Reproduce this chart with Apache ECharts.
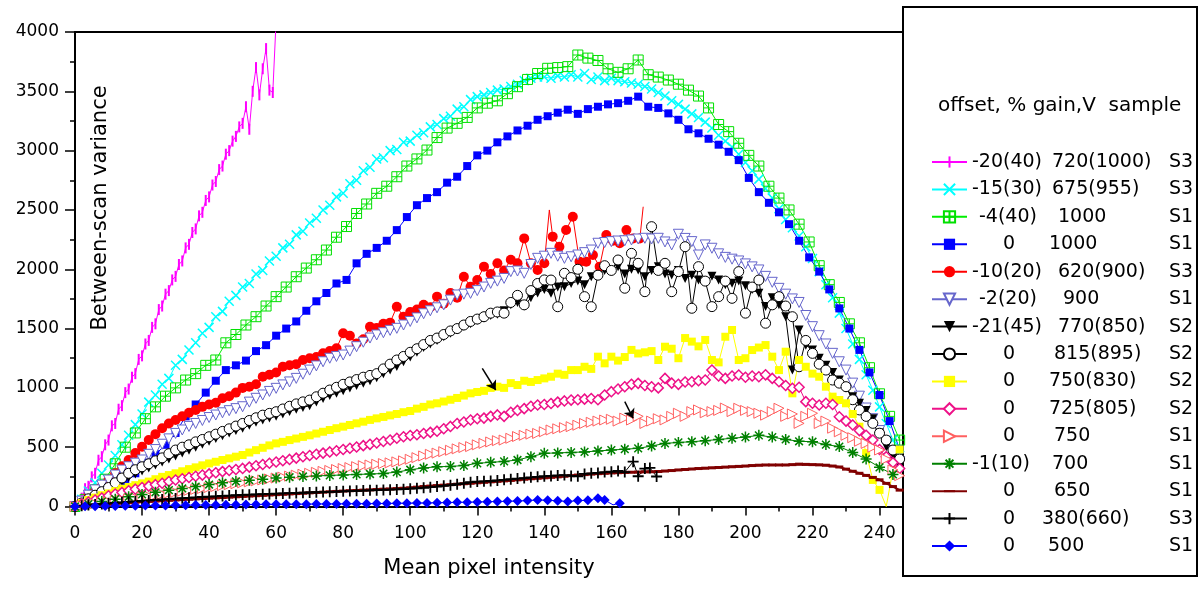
<!DOCTYPE html>
<html><head><meta charset="utf-8">
<script src="https://cdn.jsdelivr.net/npm/echarts/dist/echarts.min.js"></script>
<style>html,body{margin:0;padding:0;background:#fff}#c{width:1200px;height:594px}</style>
</head><body><div id="c"></div>
<script>
// ---------- DATA ----------
const X2 = [0,2,4,6,8,10,12,14,16,18,
20,22,24,26,28,30,32,34,36,38,
40,42,44,46,48,50,52,54,56,58,
60,62,64,66,68,70,72,74,76,78,
80,82,84,86,88,90,92,94,96,98,
100,102,104,106,108,110,112,114,116,118,
120,122,124,126,128,130,132,134,136,138,
140,142,144,146,148,150,152,154,156,158,
160,162,164,166,168,170,172,174,176,178,
180,182,184,186,188,190,192,194,196,198,
200,202,204,206,208,210,212,214,216,218,
220,222,224,226,228,230,232,234,236,238,
240,242,244,246];
const X3 = [0,3,6,9,12,15,18,21,24,27,
30,33,36,39,42,45,48,51,54,57,
60,63,66,69,72,75,78,81,84,87,
90,93,96,99,102,105,108,111,114,117,
120,123,126,129,132,135,138,141,144,147,
150,153,156,159,162,165,168,171,174,177,
180,183,186,189,192,195,198,201,204,207,
210,213,216,219,222,225,228,231,234,237,
240,243,246];
const X4 = [0,4,8,12,16,20,24,28,32,36,
40,44,48,52,56,60,64,68,72,76,
80,84,88,92,96,100,104,108,112,116,
120,124,128,132,136,140,144,148,152,156,
160,164,168,172,176,180,184,188,192,196,
200,204,208,212,216,220,224,228,232,236,
240,244];

const magentaPts = [[0,0],[1,40],[2,70],[3,150],[4,170],[5,250],[6,280],[7,390],[8,420],[9,520],[10,560],[11,680],[12,700],[13,820],[14,850],[15,960],[16,990],[17,1090],[18,1120],[19,1240],[20,1270],[21,1370],[22,1400],[23,1510],[24,1540],[25,1660],[26,1690],[27,1790],[28,1820],[29,1910],[30,1940],[31,2040],[32,2070],[33,2180],[34,2210],[35,2310],[36,2340],[37,2450],[38,2480],[39,2580],[40,2610],[41,2710],[42,2740],[43,2840],[44,2870],[45,2970],[46,3000],[47,3080],[48,3120],[49,3200],[50,3230],[51,3370],[52,3180],[53,3500],[54,3700],[55,3470],[56,3690],[57,3860],[58,3510],[59,3490],[60,4100]];

const cyanY = [0,60,130,200,280,350,430,520,600,690,
780,880,940,1030,1080,1190,1240,1320,1380,1460,
1510,1600,1645,1730,1780,1850,1880,1960,1990,2070,
2110,2180,2210,2290,2320,2390,2430,2500,2540,2610,
2640,2720,2750,2830,2860,2930,2940,3000,3010,3070,
3080,3130,3150,3200,3220,3270,3290,3350,3370,3430,
3455,3470,3490,3510,3520,3540,3560,3590,3610,3620,
3620,3610,3630,3620,3640,3620,3650,3600,3620,3590,
3610,3590,3580,3570,3560,3540,3520,3490,3460,3420,
3390,3350,3310,3280,3240,3190,3130,3080,3030,2970,
2900,2830,2760,2680,2600,2510,2420,2350,2280,2190,
2090,1980,1870,1760,1630,1500,1370,1240,1110,980,
840,700,560,430];

const greenY = [0,60,140,230,360,500,620,740,840,930,
1000,1066,1120,1190,1235,1380,1450,1530,1600,1690,
1769,1850,1937,2010,2080,2162,2270,2360,2470,2550,
2640,2700,2780,2870,2930,3005,3110,3190,3230,3280,
3360,3400,3420,3480,3539,3600,3650,3694,3700,3708,
3806,3780,3760,3690,3660,3690,3764,3640,3620,3595,
3560,3510,3460,3360,3220,3160,3062,2960,2870,2700,
2600,2500,2380,2230,2030,1870,1720,1540,1380,1170,
950,760,560];

const blueSqY = [0,15,45,90,150,200,280,370,440,520,
620,760,860,960,1060,1150,1190,1230,1310,1360,
1440,1500,1560,1650,1730,1800,1880,1910,2050,2130,
2180,2240,2330,2440,2540,2600,2650,2730,2780,2870,
2960,3000,3070,3120,3170,3210,3260,3290,3320,3345,
3310,3350,3370,3390,3400,3420,3455,3370,3360,3314,
3260,3180,3146,3100,3050,2990,2920,2770,2650,2560,
2480,2380,2240,2100,1980,1830,1670,1500,1320,1130,
940,720,480];

const redPts = [[0,0],[2,40],[4,90],[6,130],[8,170],[10,225],[12,280],[14,340],[16,392],[18,450],[20,504],[22,560],[24,610],[26,660],[28,700],[30,729],[32,760],[34,790],[36,813],[38,840],[40,860],[42,875],[44,912],[46,930],[48,960],[50,1000],[52,1010],[54,1030],[56,1094],[58,1110],[60,1130],[62,1178],[64,1190],[66,1200],[68,1235],[70,1250],[72,1260],[74,1291],[76,1310],[78,1333],[80,1460],[82,1440],[84,1375],[86,1410],[88,1516],[90,1505],[92,1540],[94,1550],[96,1684],[98,1600],[100,1640],[102,1660],[104,1700],[106,1680],[108,1769],[110,1710],[112,1800],[114,1760],[116,1937],[118,1853],[120,1910],[122,2022],[124,1960],[126,2050],[128,1990],[130,2080],[132,2050],[134,2260],[136,2050],[138,1994],[140,2050],[141.5,2500],[142.5,2275],[144.5,2190],[146.5,2331],[148.5,2443],[150.5,2064],[152.5,2064],[154.5,2120],[156.5,2022],[158.5,2289],[160.5,2240],[162.5,2219],[164.5,2331],[166.5,2260],[168.5,2260],[169.5,2527]];
const redLineOnly = [141.5,169.5];

const triDownOpenY = [0,45,95,140,180,223,265,307,335,365,
392,440,480,525,570,616,645,675,700,725,
750,771,790,808,825,841,880,912,940,970,
996,1025,1050,1080,1115,1150,1185,1220,1250,1265,
1277,1310,1347,1385,1420,1446,1465,1485,1502,1530,
1560,1590,1625,1650,1675,1700,1740,1783,1790,1797,
1820,1850,1881,1900,1923,1980,1985,1966,2040,2092,
2110,2134,2110,2092,2105,2120,2140,2162,2219,2225,
2233,2238,2240,2247,2255,2261,2255,2261,2230,2205,
2295,2260,2233,2120,2205,2177,2130,2100,2085,2070,
2045,2020,1994,1940,1890,1839,1790,1750,1720,1610,
1516,1440,1370,1291,1220,1150,1040,930,830,740,
640,550,460,380];

const triDownBlackY = [0,25,55,85,115,145,180,215,245,275,
300,325,350,375,400,425,450,475,500,525,
550,573,596,620,640,660,685,710,730,745,
760,780,800,820,835,850,880,910,935,955,
975,1000,1020,1040,1060,1085,1120,1150,1180,1220,
1260,1300,1340,1370,1400,1430,1460,1490,1520,1540,
1570,1590,1610,1620,1650,1700,1720,1690,1760,1800,
1830,1797,1850,1853,1880,1900,1870,1937,1950,1990,
1980,2022,1960,2000,1994,1937,1990,2022,1960,1951,
1990,1923,1950,1910,1895,1940,1909,1870,1881,1900,
1860,1830,1797,1685,1760,1700,1600,1150,1488,1360,
1320,1250,1190,1130,1066,1000,926,870,810,740,
620,504,420,340];

const circleOpenY = [0,30,65,95,125,160,200,240,280,310,
335,360,385,410,445,476,500,520,545,565,
588,610,633,655,678,700,725,748,770,785,
799,822,845,865,882,897,925,955,982,1005,
1030,1050,1070,1090,1105,1120,1160,1200,1235,1265,
1300,1330,1365,1400,1420,1450,1480,1500,1530,1560,
1580,1600,1630,1640,1630,1720,1780,1700,1820,1880,
1910,1909,1684,1966,1930,2000,1769,1684,1950,2030,
1990,2078,1840,2134,2050,1811,2359,1990,2050,1811,
1980,2190,1671,2022,1900,1685,1769,1900,1755,1980,
1630,1850,1909,1545,1700,1769,1690,1600,1178,1400,
1291,1200,1150,1066,1040,1010,900,814,760,701,
618,560,476,400];

const yellowY = [0,30,55,75,95,110,130,150,165,180,
195,210,230,250,265,280,297,315,330,347,
363,377,392,406,420,434,455,475,495,515,
532,545,560,573,587,600,615,630,645,660,
673,687,701,715,730,743,755,768,780,795,
805,825,840,860,870,885,900,915,935,954,
965,975,1000,1010,1000,1040,1024,1060,1050,1066,
1080,1094,1120,1110,1150,1150,1178,1160,1263,1207,
1263,1230,1260,1320,1290,1300,1310,1235,1347,1330,
1250,1420,1390,1350,1404,1235,1215,1431,1488,1235,
1250,1319,1340,1361,1263,1150,1305,954,1235,1178,
1120,1094,1010,926,898,870,780,673,450,224,
140,0,308,480];
const yellowLineOnly = [242];

const pinkY = [0,20,38,55,72,90,105,118,132,146,
160,172,184,196,210,223,234,245,255,265,
275,284,294,303,312,321,332,343,354,365,
375,386,397,408,419,430,440,450,460,470,
480,491,502,513,524,535,548,561,575,588,
598,605,615,625,635,655,675,700,712,729,
740,745,760,772,760,795,810,825,845,856,
860,868,880,890,897,900,905,910,900,940,
968,990,1010,1030,1038,1020,1010,1000,1080,1040,
1030,1050,1052,1060,1066,1150,1100,1080,1100,1108,
1090,1100,1094,1110,1080,1052,1020,997,1005,884,
870,856,870,860,757,720,687,640,600,560,
480,420,370,320];

const salmonY = [0,8,16,24,32,40,48,56,64,72,
80,88,96,104,112,120,128,136,144,152,
160,168,176,184,192,200,208,216,224,232,
240,248,256,264,272,280,288,296,304,312,
320,328,336,344,350,356,362,368,376,385,
398,412,426,440,450,462,474,486,497,505,
520,532,544,555,560,575,590,600,610,616,
630,645,655,665,673,685,700,710,720,729,
735,720,745,729,760,700,720,740,730,760,
786,760,800,814,790,800,810,830,800,828,
810,800,786,770,800,828,760,780,701,760,
786,700,720,660,630,600,580,550,532,500,
476,400,308,260];

const starY = [0,20,42,62,82,102,120,138,152,168,
185,200,212,222,230,240,247,253,258,262,
266,270,274,278,290,310,325,335,338,345,
364,372,380,392,420,448,452,456,460,468,
476,483,490,510,532,540,546,555,565,575,
585,600,585,565,550,546,522,505,455,400,
330,270];

const maroonY = [0,4,8,12,16,20,24,28,32,36,
40,43,46,49,52,55,58,61,64,67,
70,73,76,79,82,85,88,91,94,97,
100,103,106,109,112,115,118,121,124,127,
130,133,135,138,140,143,146,148,151,154,
158,163,168,172,176,180,184,188,192,196,
200,204,208,212,216,220,225,230,234,238,
242,246,250,255,260,265,269,273,277,280,
283,285,287,289,290,292,293,295,299,303,
308,312,316,320,323,326,329,332,335,338,
341,345,348,350,350,350,350,353,357,355,
353,351,348,341,333,315,297,280,262,245,
225,195,168,138];

const plusPts = [[0,0],[2,6],[4,12],[6,17],[8,22],[10,27],[12,31],[14,35],[16,39],[18,43],[20,47],[22,51],[24,55],[26,59],[28,63],[30,67],[32,70],[34,73],[36,77],[38,80],[40,83],[42,86],[44,89],[46,92],[48,95],[50,98],[52,100],[54,102],[56,104],[58,106],[60,108],[62,110],[64,112],[66,114],[68,116],[70,118],[72,120],[74,122],[76,124],[78,126],[80,128],[82,130],[84,132],[86,134],[88,136],[90,138],[92,140],[94,142],[96,144],[98,146],[100,150],[102,154],[104,158],[106,163],[108,168],[110,174],[112,180],[114,188],[116,195],[118,205],[120,210],[122,212],[124,215],[126,220],[128,225],[130,230],[132,235],[134,240],[136,246],[138,250],[140,255],[142,258],[144,262],[146,265],[148,258],[150,255],[152,275],[154,280],[156,283],[158,290],[160,293],[162,300],[164,290],[166.5,378],[168,255],[170,320],[171.5,325],[173.5,253]];

const diamondPts = [[0,0],[3,2],[6,3],[9,4],[12,5],[15,6],[18,7],[21,8],[24,8],[27,9],[30,10],[33,11],[36,12],[39,12],[42,13],[45,14],[48,15],[51,16],[54,17],[57,18],[60,18],[63,19],[66,20],[69,20],[72,21],[75,22],[78,22],[81,23],[84,24],[87,24],[90,25],[93,26],[96,27],[99,28],[102,29],[105,30],[108,32],[111,33],[114,35],[117,36],[120,38],[123,40],[126,42],[129,44],[132,46],[135,50],[138,55],[141,52],[144,48],[147,42],[150,50],[153,52],[156,70],[158,55],[160.5,14],[162.5,28]];
const diamondLineOnly = [160.5];

const arrows = [[121.5,1165,125.5,982],[164,884,166.5,744]];

const legendOffset = ['-20(40)','-15(30)','-4(40)','0','-10(20)','-2(20)','-21(45)','0','0','0','0','-1(10)','0','0','0'];
const legendGain = ['720(1000)','675(955)','1000','1000','620(900)','900','770(850)','815(895)','750(830)','725(805)','750','700','650','380(660)','500'];
const legendSample = ['S3','S3','S1','S1','S3','S1','S2','S2','S2','S2','S1','S1','S1','S3','S1'];

const xTicks = {min:0, max:247, interval:20};
const yTicks = {min:0, max:4000, interval:500};

// ---------- BUILD ----------
const FONT = 'DejaVu Sans';
const names = legendOffset.map((o,i)=>o+' '+legendGain[i]+' '+legendSample[i]);
function zip(xs, ys, lineOnly){ return xs.map((x,i)=> (lineOnly && lineOnly.indexOf(x)>=0) ? {value:[x,ys[i]], symbol:'none'} : [x,ys[i]]); }
function pts(p, lineOnly){ return p.map(v => (lineOnly && lineOnly.indexOf(v[0])>=0) ? {value:v, symbol:'none'} : v); }

const SYM = {
  bar: 'path://M0,0M5,0L5,10M10,10',
  cross: 'path://M0,0L10,10M0,10L10,0',
  sqplus: 'path://M0,0L10,0L10,10L0,10ZM5,0L5,10M0,5L10,5',
  plus: 'path://M5,0L5,10M0,5L10,5',
  star: 'path://M5,0L5,10M0,5L10,5M1.5,1.5L8.5,8.5M1.5,8.5L8.5,1.5',
  dash: 'path://M0,0M0,5L10,5M10,10'
};
const T = 'rgba(0,0,0,0)';
function S(idx, data, o){
  return {
    name: names[idx], type:'line', data: data, showAllSymbol:true, animation:false, clip:true,
    symbol: o.symbol, symbolSize: o.size, symbolRotate: o.rotate||0,
    lineStyle: {color: o.line, width: o.lw||1},
    itemStyle: {color: o.fill, borderColor: o.stroke||o.fill, borderWidth: o.bw||0},
    emphasis: {disabled:true}
  };
}
const series = [
  S(0, pts(magentaPts), {symbol:SYM.bar, size:11, line:'#ff00ff', fill:T, stroke:'#ff00ff', bw:2}),
  S(1, zip(X2,cyanY), {symbol:SYM.cross, size:9, line:'#00ffff', fill:T, stroke:'#00ffff', bw:1.5}),
  S(2, zip(X3,greenY), {symbol:SYM.sqplus, size:10, line:'#00ee00', fill:T, stroke:'#00e000', bw:1}),
  S(3, zip(X3,blueSqY), {symbol:'rect', size:8, line:'#0000ff', fill:'#0000ff'}),
  S(4, pts(redPts, redLineOnly), {symbol:'circle', size:10, line:'#ff0000', fill:'#ff0000'}),
  S(5, zip(X2,triDownOpenY), {symbol:'triangle', rotate:180, size:10, line:'#6666cc', fill:'#ffffff', stroke:'#6666cc', bw:1}),
  S(6, zip(X2,triDownBlackY), {symbol:'triangle', rotate:180, size:9, line:'#000000', fill:'#000000'}),
  S(7, zip(X2,circleOpenY), {symbol:'circle', size:10, line:'#000000', fill:'#ffffff', stroke:'#000000', bw:1}),
  S(8, zip(X2,yellowY,yellowLineOnly), {symbol:'rect', size:8, line:'#ffff00', fill:'#ffff00'}),
  S(9, zip(X2,pinkY), {symbol:'diamond', size:10, line:'#ee1188', fill:'#ffffff', stroke:'#ee1188', bw:1.5}),
  S(10, zip(X2,salmonY), {symbol:'triangle', rotate:-90, size:10, line:'#ff6060', fill:'#ffffff', stroke:'#ff6060', bw:1}),
  S(11, zip(X4,starY), {symbol:SYM.star, size:11, line:'#008000', fill:T, stroke:'#008000', bw:1.5}),
  S(12, zip(X2,maroonY), {symbol:SYM.dash, size:8, line:'#800000', lw:2, fill:T, stroke:'#800000', bw:3}),
  S(13, pts(plusPts), {symbol:SYM.plus, size:11, line:'#000000', fill:T, stroke:'#000000', bw:1.8}),
  S(14, pts(diamondPts, diamondLineOnly), {symbol:'diamond', size:10, line:'#0000ff', fill:'#0000ff'})
];
series[14].markLine = {
  silent:true, animation:false, symbol:['none','arrow'], symbolSize:9,
  lineStyle:{color:'#000', width:1.5, type:'solid'}, label:{show:false},
  data: arrows.map(a => [{coord:[a[0],a[1]]},{coord:[a[2],a[3]]}])
};

// legend rich text columns
const Q = [0,0,7,31,0,7,0,31,31,31,31,0,31,31,31];
const P = [10,10,16,7,16,21,16,12,7,7,12,10,12,0,6];
const base = {fontFamily:FONT, fontSize:19, lineHeight:20, color:'#000'};
const rich = {c: Object.assign({}, base)};
for (let i=0;i<15;i++){
  rich['qa'+i] = Object.assign({width:Q[i]}, base);
  rich['a'+i] = Object.assign({width:70-Q[i]}, base);
  rich['qb'+i] = Object.assign({width:P[i]}, base);
  rich['b'+i] = Object.assign({width:127-P[i]}, base);
}
function legendFmt(name){
  const i = names.indexOf(name);
  let s = '';
  if (Q[i]>0) s += '{qa'+i+'| }';
  s += '{a'+i+'|'+legendOffset[i]+'}';
  if (P[i]>0) s += '{qb'+i+'| }';
  s += '{b'+i+'|'+legendGain[i]+'}{c|'+legendSample[i]+'}';
  return s;
}

const option = {
  backgroundColor:'#fff',
  animation:false,
  grid:{left:75, right:297, top:32, bottom:87.5, containLabel:false, outerBoundsMode:'none'},
  xAxis:[{
    type:'value', min:xTicks.min, max:xTicks.max, interval:xTicks.interval,
    axisLine:{show:true, onZero:false, lineStyle:{color:'#000', width:2}},
    axisTick:{show:true, length:9, lineStyle:{color:'#000', width:1.5}},
    minorTick:{show:true, splitNumber:2, length:5, lineStyle:{color:'#000', width:1.5}},
    splitLine:{show:false},
    axisLabel:{color:'#000', fontFamily:FONT, fontSize:17, margin:19, showMaxLabel:false, formatter: v => String(v)},
    name:'Mean pixel intensity', nameLocation:'middle', nameGap:52,
    nameTextStyle:{color:'#000', fontFamily:FONT, fontSize:21}
  },{
    type:'value', position:'top', min:xTicks.min, max:xTicks.max,
    axisLine:{show:true, onZero:false, lineStyle:{color:'#000', width:2}},
    axisTick:{show:false}, axisLabel:{show:false}, splitLine:{show:false}
  }],
  yAxis:{
    type:'value', min:yTicks.min, max:yTicks.max, interval:yTicks.interval,
    axisLine:{show:true, onZero:false, lineStyle:{color:'#000', width:2}},
    axisTick:{show:true, length:10, lineStyle:{color:'#000', width:1.5}},
    minorTick:{show:true, splitNumber:2, length:5, lineStyle:{color:'#000', width:1.5}},
    splitLine:{show:false},
    axisLabel:{color:'#000', fontFamily:FONT, fontSize:17, margin:16, formatter: v => String(v)}
  },
  legend:{
    orient:'vertical', left:931, top:152, padding:0,
    itemWidth:35, itemHeight:14, itemGap:7.43, selectedMode:false,
    data:names, formatter:legendFmt,
    textStyle:Object.assign({rich:rich}, base)
  },
  graphic:[
    {type:'rect', shape:{x:903, y:7, width:294, height:569}, style:{fill:'none', stroke:'#000', lineWidth:2}, silent:true},
    {type:'text', x:938, y:106, style:{text:'offset, % gain,V  sample', fontFamily:FONT, fontSize:20, fill:'#000', verticalAlign:'middle', align:'left'}, silent:true},
    {type:'text', x:101, y:208, rotation:Math.PI/2, style:{text:'Between-scan variance', fontFamily:FONT, fontSize:21, fill:'#000', align:'center', verticalAlign:'middle'}, silent:true}
  ],
  series: series
};
const chart = echarts.init(document.getElementById('c'), null, {renderer:'canvas'});
chart.setOption(option);
</script>
</body></html>
